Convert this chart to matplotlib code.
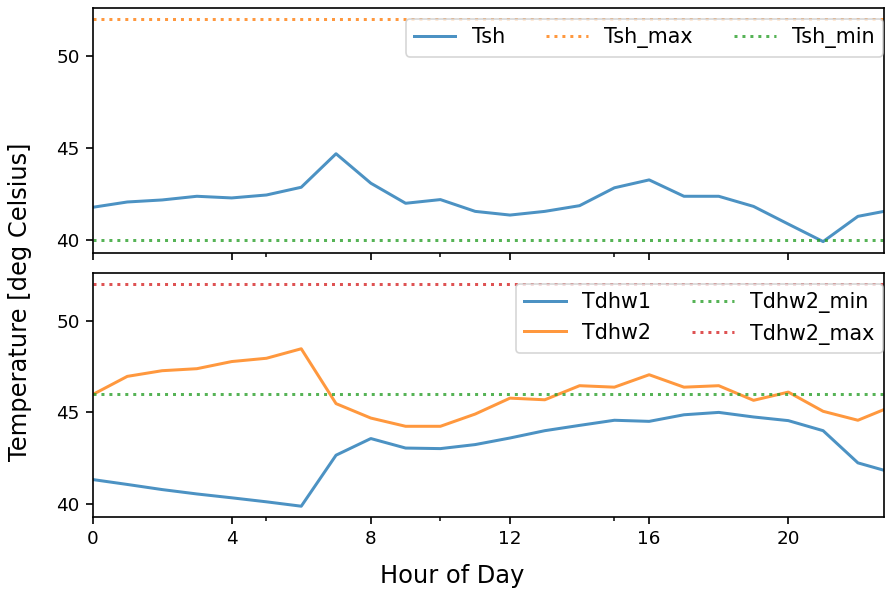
import matplotlib
matplotlib.use("Agg")
import matplotlib.pyplot as plt
from matplotlib.ticker import FixedLocator

hours = list(range(24))
tsh = [41.78, 42.07, 42.18, 42.38, 42.29, 42.45, 42.87, 44.69, 43.09, 42.00,
       42.20, 41.56, 41.36, 41.56, 41.87, 42.84, 43.27, 42.38, 42.38, 41.83,
       40.87, 39.92, 41.29, 41.65]
tsh_max = 52.0
tsh_min = 40.0
tdhw1 = [41.33, 41.06, 40.78, 40.54, 40.33, 40.11, 39.87, 42.66, 43.57, 43.05,
         43.02, 43.24, 43.60, 44.00, 44.29, 44.57, 44.51, 44.87, 45.00, 44.75,
         44.55, 44.00, 42.24, 41.70]
tdhw2 = [45.97, 46.97, 47.28, 47.39, 47.78, 47.96, 48.48, 45.48, 44.69, 44.24,
         44.24, 44.91, 45.78, 45.69, 46.46, 46.38, 47.06, 46.38, 46.46, 45.66,
         46.11, 45.06, 44.57, 45.35]
tdhw2_min = 46.0
tdhw2_max = 52.0
x_major = [0, 4, 8, 12, 16, 20]
x_minor = [5, 10, 15]

DPI = 120
fig = plt.figure(figsize=(885 / DPI, 594 / DPI), dpi=DPI)
W, H = 885, 594
def box(l, t, r, b):
    return [l / W, 1 - b / H, (r - l) / W, (b - t) / H]

ax1 = fig.add_axes(box(92.5, 8, 884, 252.7))
ax2 = fig.add_axes(box(92.5, 273.3, 884, 517.3), sharex=ax1)

c_blue, c_orange, c_green, c_red = "#1f77b4", "#ff7f0e", "#2ca02c", "#d62728"
LW = 1.8

ax1.plot(hours, tsh, color=c_blue, alpha=0.8, lw=LW, label="Tsh")
ax1.plot(hours, [tsh_max] * len(hours), color=c_orange, ls=":", alpha=0.8, lw=LW, label="Tsh_max")
ax1.plot(hours, [tsh_min] * len(hours), color=c_green, ls=":", alpha=0.8, lw=LW, label="Tsh_min")
ax1.legend(loc="upper right", ncol=3, fontsize=12.4, borderaxespad=0,
           bbox_to_anchor=(0.9987, 0.955))

ax2.plot(hours, tdhw1, color=c_blue, alpha=0.8, lw=LW, label="Tdhw1")
ax2.plot(hours, tdhw2, color=c_orange, alpha=0.8, lw=LW, label="Tdhw2")
ax2.plot(hours, [tdhw2_min] * len(hours), color=c_green, ls=":", alpha=0.8, lw=LW, label="Tdhw2_min")
ax2.plot(hours, [tdhw2_max] * len(hours), color=c_red, ls=":", alpha=0.8, lw=LW, label="Tdhw2_max")
ax2.legend(loc="upper right", ncol=2, fontsize=12.4, borderaxespad=0,
           bbox_to_anchor=(0.9987, 0.956))

for ax in (ax1, ax2):
    ax.set_yticks([40, 45, 50])
    ax.tick_params(labelsize=11, length=4.2, width=1.0)
    ax.tick_params(which="minor", length=2.4, width=0.9)
    for s in ax.spines.values():
        s.set_linewidth(1.0)
ax1.xaxis.set_major_locator(FixedLocator(x_major))
ax1.xaxis.set_minor_locator(FixedLocator(x_minor))
ax1.tick_params(axis="x", labelbottom=False)
ax1.set_xlim(0, 22.75)

fig.text(452 / W, 1 - 576 / H, "Hour of Day", ha="center", va="center", fontsize=14.5)
fig.text(20 / W, 1 - 302 / H, "Temperature [deg Celsius]", ha="center", va="center",
         rotation=90, fontsize=14.5)

fig.savefig("out.png", dpi=DPI)
